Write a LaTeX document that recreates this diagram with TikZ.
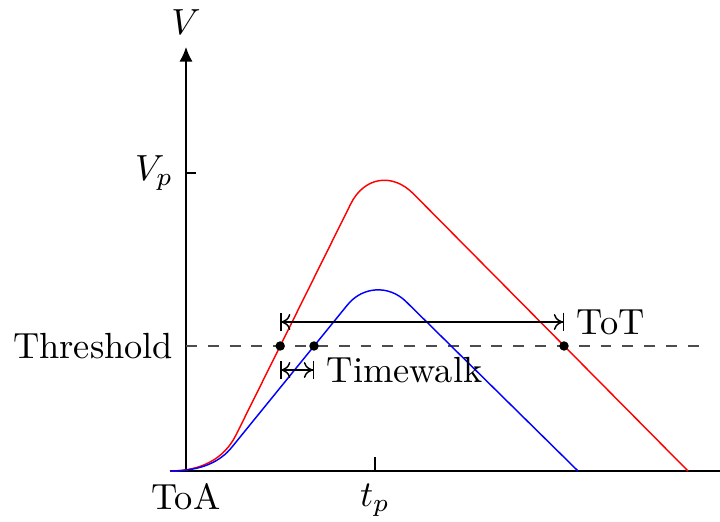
\documentclass[tikz,border=0pt]{standalone}
\usepackage{amsmath}
\usepackage{tikz}
\usetikzlibrary{arrows.meta,positioning,calc}

\begin{document}
\begin{tikzpicture}[x=2.75pt,y=2.75pt,
  dot/.style={circle,fill=black,inner sep=0pt,minimum size=2.6pt},
  span/.style={{Bar[width=5.2pt]To[length=2.4pt,width=4.4pt]}-{To[length=2.4pt,width=4.4pt]Bar[width=5.2pt]}},
  tick/.style={black}]
  \useasboundingbox (-18.6,-5) rectangle (53.4,47.1);
  % axes
  \coordinate (O) at (0,0);
  \coordinate (xs) at (-1.6,0);
  \coordinate (xe) at (53.4,0);
  \coordinate (ye) at (0,42.4);
  \draw (xs) -- (xe);
  \draw[-{Latex[length=4pt,width=3.6pt]}] (O) -- (ye) node[above] (vlab) {$V$};
  \coordinate (vp) at (0,29.8);
  \draw[tick] (vp) -- ++(1,0);
  \node[left] (vplab) at (vp) {$V_p$};
  \coordinate (tp) at (18.9,0);
  \draw[tick] (tp) -- ++(0,1.4);
  \node[below] (tplab) at (tp) {$t_p$};
  \node[below] (toa) at (O) {ToA};
  % threshold
  \coordinate (thl) at (0,12.5);
  \coordinate (thr) at (52,12.5);
  \draw[dashed,black!70] (thl) -- (thr);
  \node[left] (thlab) at (thl) {Threshold};
  % pulses
  \coordinate (rk) at (5,3.6);
  \coordinate (bk) at (4.6,2.4);
  \draw[red] (xs) .. controls (1.5,0) and (3.8,1.2) .. (rk);
  \draw[red,rounded corners=15pt] (rk) -- (18.9,31.6) -- (50.2,0);
  \draw[blue] (xs) .. controls (1.5,0) and (3.4,0.9) .. (bk);
  \draw[blue,rounded corners=12pt] (bk) -- (18.9,20) -- (39.2,0);
  % crossings
  \foreach \n/\x in {tr/9.42,tb/12.8,tf/37.8}{
    \node[dot] (\n) at (\x,12.5) {};
  }
  \draw[span] ($(tr)+(0,2.4)$) coordinate (tota) -- ($(tf)+(0,2.4)$) coordinate (totb);
  \node[right] (tot) at (totb) {ToT};
  \draw[span] ($(tr)+(0,-2.4)$) coordinate (twa) -- ($(tb)+(0,-2.4)$) coordinate (twb);
  \node[right] (tw) at (twb) {Timewalk};
\end{tikzpicture}
\end{document}
